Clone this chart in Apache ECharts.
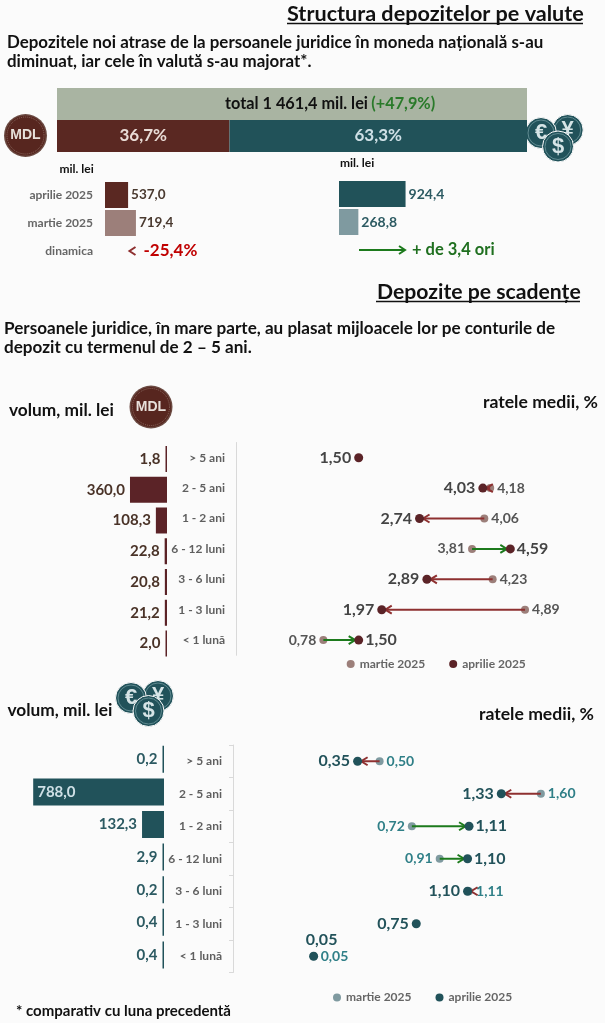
<!DOCTYPE html>
<html><head><meta charset="utf-8">
<style>html,body{margin:0;padding:0;background:#fbfbfb}#c{width:605px;height:1023px}</style>
<script src="https://cdn.jsdelivr.net/npm/echarts@6/dist/echarts.min.js"></script>
</head><body><div id="c"></div>
<script>
const FONT='Lato';
const structureRows=['total','structura'];
const shareTotal=[100,null];
const shareMDL=[null,36.7];
const shareFX=[null,63.3];
const monthRows=['aprilie 2025','martie 2025','dinamica'];
const monthlyMDL=[537.0,719.4,null];
const monthlyFX=[924.4,268.8];
const terms=['> 5 ani','2 - 5 ani','1 - 2 ani','6 - 12 luni','3 - 6 luni','1 - 3 luni','< 1 lună'];
const volumeMDL=[1.8,360.0,108.3,22.8,20.8,21.2,2.0];
const volumeFX=[0.2,788.0,132.3,2.9,0.2,0.4,0.4];
const rateMDLMar=[null,4.18,4.06,3.81,4.23,4.89,0.78];
const rateMDLApr=[1.50,4.03,2.74,4.59,2.89,1.97,1.50];
const rateFXMar=[0.50,1.60,0.72,0.91,1.11,null,0.05];
const rateFXApr=[0.35,1.33,1.11,1.10,1.10,0.75,0.05];

const RED='#8e3030',GREEN='#1c7a1c';
const BROWN='#5b2327',TEAL='#21525a';
const fmt1=v=>v.toFixed(1).replace('.',',');
const fmt2=v=>v.toFixed(2).replace('.',',');

const grid=[],xAxis=[],yAxis=[],series=[];
function addGrid(g,x,y){const i=grid.length;grid.push(g);
  xAxis.push(Object.assign({gridIndex:i,type:'value',show:false,splitLine:{show:false}},x));
  yAxis.push(Object.assign({gridIndex:i,type:'category',inverse:true,axisLine:{show:false},axisTick:{show:false},axisLabel:{show:false}},y));
  return i;}

// structure bar
const gS=addGrid({left:57,top:88,width:470,height:64},{min:0,max:100},{data:structureRows});
const stackBase={type:'bar',stack:'s',xAxisIndex:gS,yAxisIndex:gS,barWidth:32,silent:true};
series.push(Object.assign({},stackBase,{name:'total',data:shareTotal,itemStyle:{color:'#a9b4a2'}}));
series.push(Object.assign({},stackBase,{name:'MDL',data:shareMDL,itemStyle:{color:'#5a2822'},
  label:{show:true,position:'inside',formatter:p=>fmt1(p.value)+'%',fontFamily:FONT,fontWeight:700,fontSize:17,color:'#e9dcd6'}}));
series.push(Object.assign({},stackBase,{name:'valuta',data:shareFX,itemStyle:{color:'#215259'},
  label:{show:true,position:'inside',formatter:p=>fmt1(p.value)+'%',fontFamily:FONT,fontWeight:700,fontSize:17,color:'#cfe0e6'}}));

// monthly bars
const gL=addGrid({left:105,top:181,width:43,height:84},{min:0,max:1000},
 {data:monthRows,axisLabel:{show:true,margin:12,fontFamily:FONT,fontWeight:700,fontSize:12,color:'#666'}});
series.push({type:'bar',xAxisIndex:gL,yAxisIndex:gL,barWidth:26,silent:true,
 data:monthlyMDL.map((v,i)=>({value:v,itemStyle:{color:i?'#9c7f7a':'#5a2822'}})),
 label:{show:true,position:'right',distance:3,formatter:p=>p.value==null?'':fmt1(p.value),fontFamily:FONT,fontWeight:700,fontSize:13.5,color:'#4a3a30'}});
const gR=addGrid({left:339,top:180,width:72,height:56},{min:0,max:1000},{data:monthRows.slice(0,2)});
series.push({type:'bar',xAxisIndex:gR,yAxisIndex:gR,barWidth:26,silent:true,
 data:monthlyFX.map((v,i)=>({value:v,itemStyle:{color:i?'#7f9aa0':'#215259'}})),
 label:{show:true,position:'right',distance:3,formatter:p=>fmt1(p.value),fontFamily:FONT,fontWeight:700,fontSize:14,color:'#2c5a62'}});

function panel(o){
 const gB=addGrid({left:17,top:o.barTop,width:o.barRight-17,height:o.barH},{min:0,max:(o.barRight-17)/o.barScale,inverse:true},{data:terms});
 series.push({type:'bar',xAxisIndex:gB,yAxisIndex:gB,barWidth:o.barW,barMinHeight:1.5,silent:true,
  data:o.volume.map(v=>v>500?{value:v,label:{position:'insideLeft',distance:4,color:'#cfe0e6'}}:v),
  itemStyle:{color:o.dark},
  label:{show:true,position:'left',distance:5,formatter:p=>fmt1(p.value),fontFamily:FONT,fontWeight:700,fontSize:15,color:o.volLabel}});
 const gD=addGrid({left:o.dotLeft,top:o.dotTop,width:o.dotW,height:o.dotH},{min:o.min,max:o.max},
  {data:terms,axisLine:{show:true,onZero:false,lineStyle:{color:'#d9d9d9',width:1}},
   axisTick:{show:o.ticks,length:4,lineStyle:{color:'#d9d9d9'}},
   axisLabel:{show:true,margin:11,fontFamily:FONT,fontWeight:700,fontSize:12,color:'#5f5f5f'}});
 const arrows=o.mar.map((m,i)=>[m,o.apr[i],i]).filter(r=>r[0]!=null&&r[0]!==r[1]);
 series.push({name:'martie 2025',type:'scatter',xAxisIndex:gD,yAxisIndex:gD,z:2,silent:true,symbolSize:8,
  itemStyle:{color:o.light,opacity:1},
  data:o.mar.map((m,i)=>m==null?null:({value:[m,i],label:{position:m>=o.apr[i]?'right':'left'}})).filter(Boolean),
  label:{show:true,distance:3,formatter:p=>fmt2(p.value[0]),fontFamily:FONT,fontWeight:700,fontSize:14,color:o.marLabel}});
 series.push({type:'custom',xAxisIndex:gD,yAxisIndex:gD,z:3,silent:true,clip:false,data:arrows,
  encode:{x:[0,1],y:2},
  renderItem(p,api){
   const m=api.coord([api.value(0),api.value(2)]),a=api.coord([api.value(1),api.value(2)]);
   const dir=a[0]>m[0]?1:-1,tip=a[0]-dir*3.5,wing=tip-dir*6.5,col=dir>0?GREEN:RED;
   const ls={stroke:col,lineWidth:2,fill:'none'};
   const ch=[];
   if(Math.abs(m[0]-tip)>1&&(tip-m[0])*dir>0)ch.push({type:'line',shape:{x1:m[0],y1:m[1],x2:tip,y2:m[1]},style:ls});
   ch.push({type:'polyline',shape:{points:[[wing,m[1]-4],[tip,m[1]],[wing,m[1]+4]]},style:ls});
   return {type:'group',children:ch};
  }});
 series.push({name:'aprilie 2025',type:'scatter',xAxisIndex:gD,yAxisIndex:gD,z:4,silent:true,symbolSize:9,
  itemStyle:{color:o.dark,opacity:1},
  data:o.apr.map((a,i)=>{const m=o.mar[i];
   if(m===a)return {value:[a,i],label:{position:'top',distance:4,offset:[8,0]}};
   const right=m!=null&&a>m;
   return {value:[a,i],label:{position:right?'right':'left',distance:right?2:3}};}),
  label:{show:true,formatter:p=>fmt2(p.value[0]),fontFamily:FONT,fontWeight:700,fontSize:16,color:o.aprLabel}});
}
panel({barRight:167,barTop:443.6,barH:215.3,barW:26,barScale:0.1028,volume:volumeMDL,dark:BROWN,light:'#9c7f7a',volLabel:'#4a3328',
 dotLeft:236,dotTop:442.5,dotH:212.8,dotW:343.5,min:-1,max:6,ticks:false,mar:rateMDLMar,apr:rateMDLApr,marLabel:'#555',aprLabel:'#444'});
panel({barRight:164,barTop:743,barH:228.2,barW:27,barScale:0.166,volume:volumeFX,dark:TEAL,light:'#7f9aa0',volLabel:'#2c5a62',
 dotLeft:233,dotTop:745,dotH:227.5,dotW:366.5,min:-0.5,max:2,ticks:true,mar:rateFXMar,apr:rateFXApr,marLabel:'#2f7f87',aprLabel:'#22525a'});

const legendBase={orient:'horizontal',padding:0,itemWidth:8,itemHeight:8,itemGap:24,icon:'circle',selectedMode:false,
 textStyle:{fontFamily:FONT,fontWeight:700,fontSize:12,color:'#666'}};
const legend=[
 Object.assign({},legendBase,{left:346.7,top:658,data:[{name:'martie 2025',itemStyle:{color:'#9c7f7a'}},{name:'aprilie 2025',itemStyle:{color:BROWN}}]}),
 Object.assign({},legendBase,{left:333,top:991.5,data:[{name:'martie 2025',itemStyle:{color:'#7f9aa0'}},{name:'aprilie 2025',itemStyle:{color:TEAL}}]})
];

// texts and decorations
function txt(x,y,t,size,color,align){return {type:'text',x,y,silent:true,style:{text:t,fontFamily:FONT,fontWeight:700,fontSize:size,fill:color||'#111',align:align||'left',textAlign:align||'left',verticalAlign:'middle',textVerticalAlign:'middle'}};}
function hline(x1,x2,y,c,w){return {type:'line',silent:true,shape:{x1,y1:y,x2,y2:y},style:{stroke:c,lineWidth:w}};}
function mdl(cx,cy){return {type:'group',x:cx,y:cy,silent:true,children:[
 {type:'circle',shape:{r:21.5},style:{fill:'#6b4a42'}},
 {type:'circle',shape:{r:20},style:{fill:'#57261f'}},
 {type:'circle',shape:{r:18.5},style:{fill:'none',stroke:'#8a6a60',lineWidth:1,lineDash:[1,1]}},
 {type:'text',style:{text:'MDL',fontFamily:'Liberation Sans',fontWeight:700,fontSize:14,fill:'#e8e0da',align:'center',textAlign:'center',verticalAlign:'middle',textVerticalAlign:'middle'}}]};}
function coin(cx,cy,ch){return {type:'group',x:cx,y:cy,silent:true,children:[
 {type:'circle',shape:{r:15.5},style:{fill:'#21525a',stroke:'#fbfbfb',lineWidth:1}},
 {type:'circle',shape:{r:13},style:{fill:'none',stroke:'#5f8a90',lineWidth:1}},
 {type:'text',style:{text:ch,fontFamily:'Liberation Sans',fontWeight:700,fontSize:22,fill:'#d6e4e6',align:'center',textAlign:'center',verticalAlign:'middle',textVerticalAlign:'middle'}}]};}
function coins(a,b,c){return [coin(b[0],b[1],'¥'),coin(a[0],a[1],'€'),coin(c[0],c[1],'$')];}
const graphic=[
 txt(287,14,'Structura depozitelor pe valute',21.6),hline(287,583,23.5,'#111',1.5),
 txt(7,43,'Depozitele noi atrase de la persoanele juridice în moneda națională s-au',16.9),
 txt(7,62,'diminuat, iar cele în valută s-au majorat*.',16.9),
 {type:'text',x:225,y:104,silent:true,z:10,style:{rich:{a:{fontFamily:FONT,fontWeight:700,fontSize:16.3,fill:'#111'},b:{fontFamily:FONT,fontWeight:700,fontSize:16.3,fill:'#2a7a2a'}},text:'{a|total 1 461,4 mil. lei} {b|(+47,9%)}',verticalAlign:'middle',textVerticalAlign:'middle'}},
 mdl(25.5,135.5),...coins([541,133],[567.7,130],[558,146.5]),
 txt(59.5,169,'mil. lei',12),txt(340,163,'mil. lei',12),
 {type:'polyline',silent:true,shape:{points:[[135.5,247],[129.5,251],[135.5,255]]},style:{stroke:RED,lineWidth:2,fill:'none'}},
 txt(143.5,251,'-25,4%',17,'#c00000'),
 hline(359,404,250,GREEN,2),
 {type:'polyline',silent:true,shape:{points:[[399,246],[405,250],[399,254]]},style:{stroke:GREEN,lineWidth:2,fill:'none'}},
 txt(412,250,'+ de 3,4 ori',16.5,'#1f6f1f'),
 txt(377,292,'Depozite pe scadențe',21.2),hline(376,580,301.5,'#111',1.5),
 txt(4,328,'Persoanele juridice, în mare parte, au plasat mijloacele lor pe conturile de',17.1),
 txt(4,347,'depozit cu termenul de 2 – 5 ani.',17.1),
 txt(9,410,'volum, mil. lei',17.3),mdl(151,407),txt(598,402,'ratele medii, %',17.6,'#111','right'),
 txt(7.5,710,'volum, mil. lei',17.3),...coins([131,698],[158,696],[148.5,711]),txt(594,714,'ratele medii, %',17.6,'#111','right'),
 txt(16,1011,'* comparativ cu luna precedentă',15)
];

const chart=echarts.init(document.getElementById('c'),null,{renderer:'canvas',width:605,height:1023});
chart.setOption({animation:false,backgroundColor:'#fbfbfb',grid,xAxis,yAxis,series,legend,graphic});
</script></body></html>
